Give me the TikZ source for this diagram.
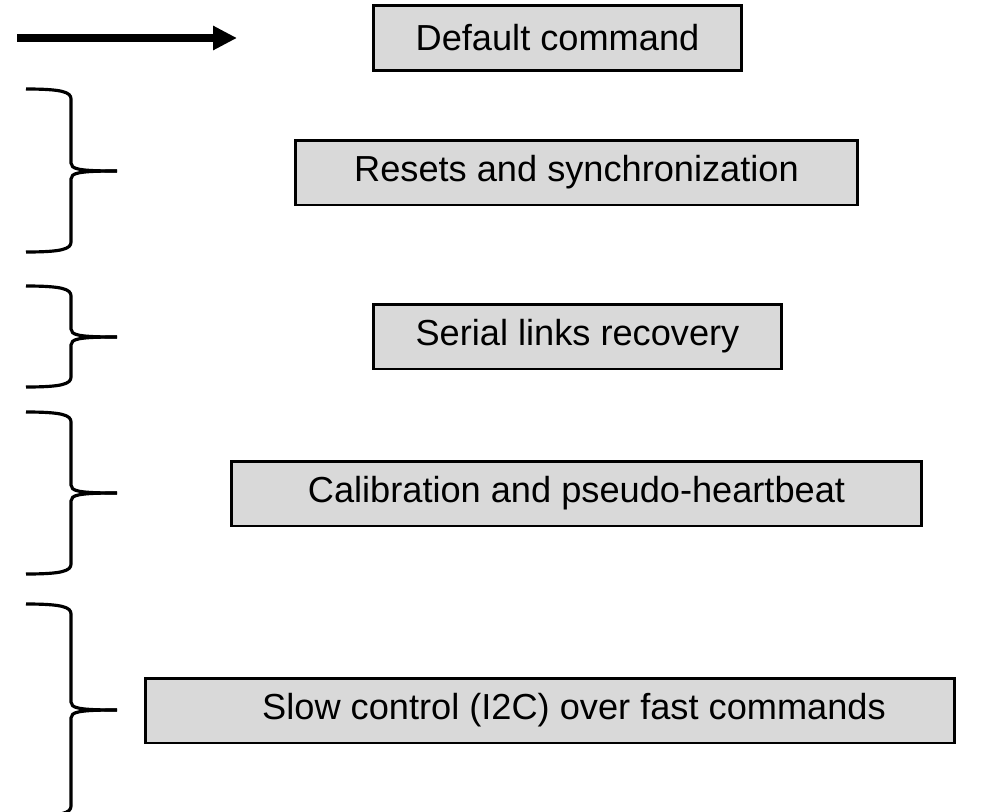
\documentclass[tikz,border=0pt]{standalone}
\usepackage{fontspec}
\setmainfont{Liberation Sans}
\usetikzlibrary{arrows.meta}
\definecolor{boxgray}{HTML}{D9D9D9}

\begin{document}
\begin{tikzpicture}[x=0.02cm, y=-0.02cm,
	box/.style={draw, line width=1.7pt, fill=boxgray, minimum height=1.3cm, inner sep=0pt, font=\fontsize{20.6}{24}\selectfont},
	curly/.style={line width=1.8pt}]
	\useasboundingbox (0,0) rectangle (992,812);

	\coordinate (arrstart) at (17,38);
	\coordinate (arrend) at (237,38);
	\draw [line width=4pt, -{Triangle[length=13.6pt, width=13pt]}] (arrstart) -- (arrend);

	\node [box, minimum width=7.38cm] (default) at (557.5, 38) {Default command};
	\node [box, minimum width=11.26cm] (resets) at (576.5, 172.5) {Resets and synchronization};
	\node [box, minimum width=8.18cm] (serial) at (577.5, 336.5) {Serial links recovery};
	\node [box, minimum width=13.82cm] (calib) at (576.5, 493.5) {Calibration and pseudo-heartbeat};
	\node [box, minimum width=16.2cm] (slowctrl) at (550, 710.5) {\hspace*{0.96cm}Slow control (I2C) over fast commands};

	\foreach \top/\mid/\bot in {89/171/252, 286/337/387, 412/493/574, 604/710/816}
	{
	\draw [curly] (26,\top) .. controls (62,\top) and (71,\top+3) .. (71,\top+10)
		-- (71,\mid-8) .. controls (71,\mid-2) and (78,\mid) .. (117,\mid);
	\draw [curly] (117,\mid) .. controls (78,\mid) and (71,\mid+2) .. (71,\mid+8)
		-- (71,\bot-10) .. controls (71,\bot-3) and (62,\bot) .. (26,\bot);
	}
\end{tikzpicture}
\end{document}
